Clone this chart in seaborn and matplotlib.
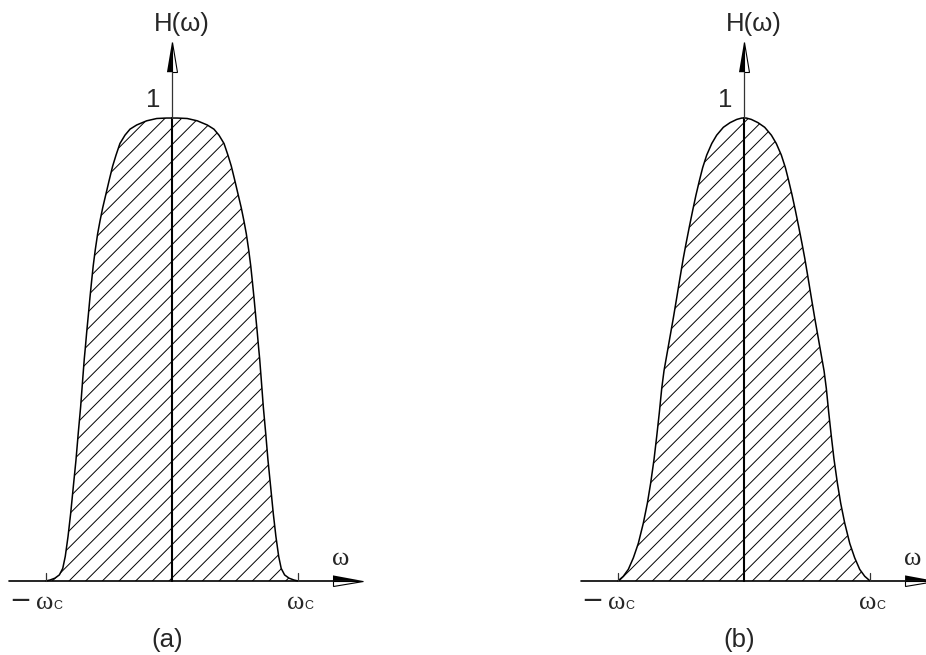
import numpy as np
import pandas as pd
import seaborn as sns
import matplotlib.pyplot as plt

# half-curves (omega / omega_c, H)
w_a = [0.0, 0.042, 0.121, 0.201, 0.280, 0.333, 0.373, 0.413, 0.444, 0.471, 0.498, 0.524, 0.550, 0.571,
       0.590, 0.609, 0.625, 0.637, 0.651, 0.664, 0.677, 0.688, 0.696, 0.709, 0.725, 0.744, 0.762, 0.783,
       0.804, 0.825, 0.847, 0.867, 0.894, 0.929, 0.968, 1.0]
h_a = [1.0, 1.0, 0.999, 0.994, 0.985, 0.976, 0.963, 0.945, 0.920, 0.896, 0.866, 0.836, 0.806, 0.778,
       0.750, 0.715, 0.681, 0.650, 0.612, 0.574, 0.537, 0.503, 0.480, 0.434, 0.376, 0.319, 0.261, 0.204,
       0.146, 0.096, 0.053, 0.027, 0.013, 0.006, 0.002, 0.0]

w_b = [0.0, 0.018, 0.058, 0.111, 0.164, 0.217, 0.256, 0.296, 0.328, 0.354, 0.381, 0.407, 0.434, 0.460,
       0.482, 0.508, 0.534, 0.561, 0.587, 0.609, 0.635, 0.653, 0.672, 0.693, 0.714, 0.741, 0.767, 0.799,
       0.839, 0.878, 0.918, 0.958, 1.0]
h_b = [1.0, 1.0, 0.997, 0.990, 0.980, 0.963, 0.945, 0.920, 0.893, 0.865, 0.834, 0.801, 0.765, 0.729,
       0.697, 0.655, 0.612, 0.568, 0.528, 0.494, 0.454, 0.416, 0.364, 0.312, 0.263, 0.211, 0.168, 0.125,
       0.081, 0.050, 0.025, 0.010, 0.0]

panel_labels = ['(a)', '(b)']

sns.set_theme(style='white')
plt.rcParams['font.family'] = ['Liberation Sans', 'DejaVu Sans']
plt.rcParams['hatch.color'] = 'black'
plt.rcParams['hatch.linewidth'] = 0.7


def full_curve(w_half, h_half):
    w = np.array(w_half)
    h = np.array(h_half)
    x = np.concatenate([-w[::-1], w[1:]])
    y = np.concatenate([h[::-1], h[1:]])
    return pd.DataFrame({'w': x, 'H': y})


def draw_panel(ax, df, label):
    ax.fill_between(df['w'], 0, df['H'], facecolor='white', edgecolor='black', hatch='//', linewidth=0)
    sns.lineplot(data=df, x='w', y='H', ax=ax, color='black', linewidth=1.1, estimator=None, sort=False)

    # axes
    ax.plot([-1.29, 1.28], [0, 0], color='black', lw=1.2)
    ax.plot([0, 0], [0, 1.0], color='black', lw=1.5)
    ax.plot([0, 0], [1.0, 1.099], color='#333333', lw=0.9)
    for t in [-1, 1]:
        ax.plot([t, t], [0, 0.018], color='#333333', lw=0.9)

    # arrow heads (half filled)
    ax.fill([0, -0.04, 0], [1.164, 1.099, 1.099], color='black', lw=0)
    ax.fill([0, 0, 0.04], [1.164, 1.099, 1.099], facecolor='white', edgecolor='black', lw=0.8)
    ax.fill([1.516, 1.278, 1.278], [0, 0.012, 0], color='black', lw=0)
    ax.fill([1.516, 1.278, 1.278], [0, 0, -0.012], facecolor='white', edgecolor='black', lw=0.8)

    # texts
    ax.text(0.079, 1.203, 'H(ω)', fontsize=18.5, ha='center', va='center')
    ax.text(-0.151, 1.039, '1', fontsize=18.5, ha='center', va='center')
    ax.text(1.341, 0.047, 'ω', fontsize=19, ha='center', va='center', family='Liberation Serif')
    ax.text(-1.206, -0.043, '−', fontsize=19, ha='center', va='center', family='DejaVu Sans')
    ax.text(-1.008, -0.047, 'ω', fontsize=19, ha='center', va='center', family='Liberation Serif')
    ax.text(-0.905, -0.055, 'C', fontsize=9, ha='center', va='center')
    ax.text(0.984, -0.047, 'ω', fontsize=19, ha='center', va='center', family='Liberation Serif')
    ax.text(1.087, -0.055, 'C', fontsize=9, ha='center', va='center')
    ax.text(-0.04, -0.127, label, fontsize=18.5, ha='center', va='center')

    ax.set_ylim(-0.160, 1.255)
    ax.set_axis_off()


fig = plt.figure(figsize=(9.26, 6.55), dpi=100)
ax_a = fig.add_axes([0, 0, 0.5, 1])
ax_b = fig.add_axes([0.5, 0, 0.5, 1])

draw_panel(ax_a, full_curve(w_a, h_a), panel_labels[0])
ax_a.set_xlim(-1.365, 2.31)
draw_panel(ax_b, full_curve(w_b, h_b), panel_labels[1])
ax_b.set_xlim(-2.23, 1.444)

fig.savefig('out.png', dpi=100, facecolor='white')
